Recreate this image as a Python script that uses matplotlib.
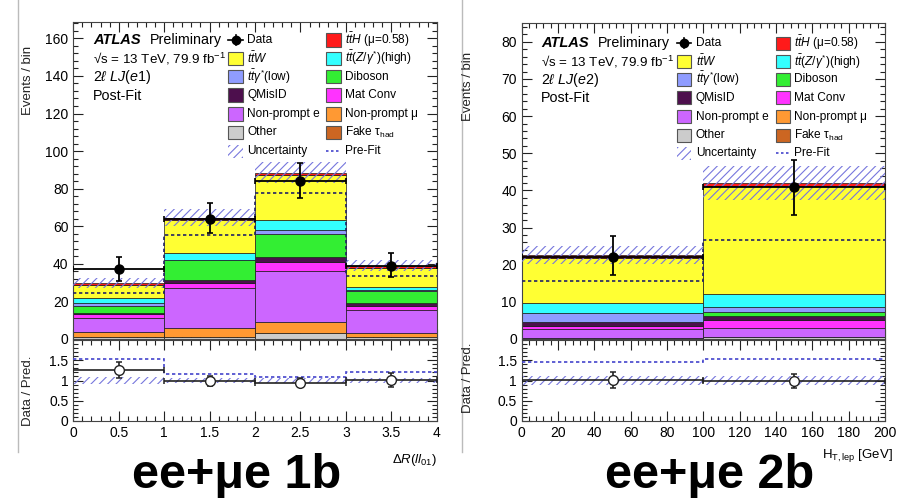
import numpy as np
import matplotlib
matplotlib.use('Agg')
import matplotlib.pyplot as plt
from matplotlib.patches import Rectangle
from matplotlib.lines import Line2D
from matplotlib.ticker import MultipleLocator

plt.rcParams['font.family'] = ['Liberation Sans', 'DejaVu Sans']
plt.rcParams['mathtext.fontset'] = 'custom'
plt.rcParams['mathtext.rm'] = 'Liberation Sans'
plt.rcParams['mathtext.it'] = 'Liberation Sans:italic'
plt.rcParams['mathtext.bf'] = 'Liberation Sans:bold'
plt.rcParams['hatch.linewidth'] = 0.8

# ---------------- data ----------------
# process order: bottom -> top of the stack
proc_names = ['Other', 'Non-prompt mu', 'Non-prompt e', 'Mat Conv', 'QMisID',
              'Diboson', 'ttgamma(low)', 'ttZ(high)', 'ttW', 'ttH']
proc_colors = ['#cccccc', '#ff9933', '#cc66ff', '#ff33ff', '#4d0f4d',
               '#33ee33', '#8f9cff', '#33ffff', '#ffff33', '#ff1a1a']

# left: Delta R(ll01), 2lLJ(e1)
edges_L = [0, 1, 2, 3, 4]
other_L = [1.0, 1.0, 3.0, 1.0]
npmu_L = [2.9, 4.7, 6.2, 2.0]
npe_L = [7.3, 21.5, 26.9, 12.6]
matconv_L = [2.1, 2.5, 4.8, 2.2]
qmisid_L = [0.5, 1.9, 2.5, 1.2]
diboson_L = [4.0, 10.2, 12.6, 6.4]
ttgam_L = [1.5, 0.5, 2.1, 0.6]
ttz_L = [2.5, 3.6, 5.4, 1.5]
ttw_L = [7.0, 17.4, 23.6, 10.4]
tth_L = [1.0, 1.2, 1.4, 1.2]
data_L = [37, 64, 84, 39]
data_up_L = [6.5, 8.5, 9.5, 6.8]
data_dn_L = [6.0, 7.8, 8.8, 6.2]
unc_L = [2.5, 4.5, 5.5, 2.8]
prefit_L = [24.5, 55.5, 77.7, 33.3]
ratio_L = [1.26, 0.99, 0.95, 1.01]
ratio_err_L = [0.2, 0.12, 0.1, 0.17]
ratio_prefit_L = [1.53, 1.16, 1.08, 1.2]
ratio_unc_L = [0.08, 0.07, 0.06, 0.07]

# right: H_T,lep, 2lLJ(e2)
edges_R = [0, 100, 200]
other_R = [0.4, 0.5]
npmu_R = [0.0, 0.0]
npe_R = [2.3, 2.5]
matconv_R = [0.9, 2.0]
qmisid_R = [0.9, 1.3]
diboson_R = [0.1, 0.9]
ttgam_R = [2.5, 1.3]
ttz_R = [2.5, 3.5]
ttw_R = [12.3, 29.2]
tth_R = [0.7, 0.8]
data_R = [22, 41]
data_up_R = [5.8, 7.2]
data_dn_R = [4.7, 7.5]
unc_R = [2.5, 4.5]
prefit_R = [15.5, 26.6]
ratio_R = [1.02, 0.98]
ratio_err_R = [0.2, 0.17]
ratio_prefit_R = [1.45, 1.53]
ratio_unc_R = [0.1, 0.1]

# ---------------- figure ----------------
W, H = 907, 501
fig = plt.figure(figsize=(W / 100, H / 100), dpi=100)

def axrect(x0, y0, x1, y1):
    return [x0 / W, 1 - y1 / H, (x1 - x0) / W, (y1 - y0) / H]

def ftext(x, y, s, **kw):
    return fig.text(x / W, 1 - y / H, s, **kw)

HATCH_C = '#7777dd'
PRE_MAIN_C = '#222266'
PRE_RATIO_C = '#4444cc'


def style(ax, xmaj, xmin, ymaj, ymin):
    ax.xaxis.set_major_locator(MultipleLocator(xmaj))
    ax.xaxis.set_minor_locator(MultipleLocator(xmin))
    ax.yaxis.set_major_locator(MultipleLocator(ymaj))
    ax.yaxis.set_minor_locator(MultipleLocator(ymin))
    ax.tick_params(which='both', direction='in', top=True, right=True,
                   labelsize=10, width=0.8, color='#222222')
    ax.tick_params(which='major', length=7)
    ax.tick_params(which='minor', length=3.5)
    for s in ax.spines.values():
        s.set_linewidth(0.8)
        s.set_color('#444444')


def draw_panel(main_rect, ratio_rect, edges, comps, data, dup, ddn, unc, prefit,
               ratio, rerr, rpre, runc, ymax, xmaj, xmin, ymaj, ymin):
    edges = np.array(edges, float)
    cen = 0.5 * (edges[:-1] + edges[1:])
    wid = np.diff(edges)
    ax = fig.add_axes(axrect(*main_rect))
    bottom = np.zeros(len(cen))
    for vals, col in zip(comps, proc_colors):
        vals = np.array(vals, float)
        ax.bar(cen, vals, width=wid, bottom=bottom, color=col,
               edgecolor='#1a1a1a', linewidth=0.5, zorder=2)
        bottom = bottom + vals
    total = bottom
    unc = np.array(unc)
    ax.bar(cen, 2 * unc, width=wid, bottom=total - unc, facecolor='none',
           edgecolor=HATCH_C, hatch='////', linewidth=0, zorder=3)
    ax.stairs(prefit, edges, baseline=None, color=PRE_MAIN_C, lw=1.2,
              linestyle=(0, (2, 1.6)), zorder=4)
    ax.errorbar(cen, data, yerr=[ddn, dup], xerr=wid / 2, fmt='o', color='black',
                ms=6.5, elinewidth=1.3, capsize=2.5, capthick=1.2, zorder=5)
    ax.set_xlim(edges[0], edges[-1])
    ax.set_ylim(0, ymax)
    style(ax, xmaj, xmin, ymaj, ymin)
    ax.tick_params(labelbottom=False)

    rx = fig.add_axes(axrect(*ratio_rect))
    runc = np.array(runc)
    rx.bar(cen, 2 * runc, width=wid, bottom=1 - runc, facecolor='none',
           edgecolor=HATCH_C, hatch='////', linewidth=0, zorder=2)
    rx.stairs(rpre, edges, baseline=None, color=PRE_RATIO_C, lw=1.2,
              linestyle=(0, (2, 1.6)), zorder=3)
    rx.errorbar(cen, ratio, yerr=rerr, xerr=wid / 2, fmt='o', color='#222222',
                mfc='white', mec='#222222', ms=7, elinewidth=1.2, capsize=2.5,
                capthick=1.1, zorder=5)
    rx.set_xlim(edges[0], edges[-1])
    rx.set_ylim(0, 2)
    style(rx, xmaj, xmin, 0.5, 0.1)
    rx.set_yticks([0, 0.5, 1, 1.5])
    rx.set_yticklabels(['0', '0.5', '1', '1.5'])
    if xmaj >= 1:
        rx.xaxis.set_major_formatter(matplotlib.ticker.FormatStrFormatter('%d'))
    else:
        rx.xaxis.set_major_formatter(
            matplotlib.ticker.FuncFormatter(lambda v, p: ('%g' % v)))
    return ax, rx


comps_L = [other_L, npmu_L, npe_L, matconv_L, qmisid_L, diboson_L, ttgam_L,
           ttz_L, ttw_L, tth_L]
comps_R = [other_R, npmu_R, npe_R, matconv_R, qmisid_R, diboson_R, ttgam_R,
           ttz_R, ttw_R, tth_R]

draw_panel((73.3, 22, 436.7, 339), (73.3, 340, 436.7, 421), edges_L, comps_L,
           data_L, data_up_L, data_dn_L, unc_L, prefit_L, ratio_L, ratio_err_L,
           ratio_prefit_L, ratio_unc_L, 168.7, 0.5, 0.1, 20, 4)
draw_panel((521.7, 22.5, 885, 339), (521.7, 340, 885, 421), edges_R, comps_R,
           data_R, data_up_R, data_dn_R, unc_R, prefit_R, ratio_R, ratio_err_R,
           ratio_prefit_R, ratio_unc_R, 85.2, 20, 4, 10, 2)

# ---------------- labels / texts ----------------
for x0, ycen_ev, ycen_dp in [(28, 80, 391), (468, 86, 378)]:
    ftext(x0, ycen_ev, 'Events / bin', rotation=90, ha='center', va='center',
          fontsize=9.5, color='#222222')
    ftext(x0, ycen_dp, 'Data / Pred.', rotation=90, ha='center', va='center',
          fontsize=9.5, color='#222222')

ftext(437, 460, r'$\Delta R(ll_{01})$', ha='right', va='center', fontsize=9.5)
ftext(893, 455, r'H$_{\rm T,lep}$ [GeV]', ha='right', va='center', fontsize=9.5)

ftext(237, 476, 'ee+\u03bce 1b', ha='center', va='center', fontsize=35,
      fontweight='bold')
ftext(710, 476, 'ee+\u03bce 2b', ha='center', va='center', fontsize=35,
      fontweight='bold')

# screenshot borders
for xb in [18, 462]:
    fig.add_artist(Line2D([xb / W, xb / W], [1 - 452 / H, 1.0],
                          transform=fig.transFigure, color='#bbbbbb', lw=1))


def atlas_block(x, y0, dy, region):
    ftext(x, y0, 'ATLAS', fontsize=10.5, fontweight='bold', fontstyle='italic',
          va='center', ha='left')
    ftext(x + 57, y0, 'Preliminary', fontsize=10.3, va='center', ha='left')
    ftext(x, y0 + dy, '\u221as = 13 TeV, 79.9 fb$^{-1}$', fontsize=9.6,
          va='center', ha='left')
    ftext(x, y0 + 2 * dy, r'2$\ell$ $LJ$($e$' + region + ')', fontsize=10.3,
          va='center', ha='left')
    ftext(x, y0 + 3 * dy, 'Post-Fit', fontsize=10.3, va='center', ha='left')


atlas_block(93, 40, 18.5, '1')
atlas_block(541, 43.3, 18.3, '2')

leg_col1 = ['Data', r'$t\bar{t}W$', r'$t\bar{t}\gamma^{*}$(low)', 'QMisID',
            'Non-prompt e', 'Other', 'Uncertainty']
leg_col2 = [r'$t\bar{t}H$ ($\mathrm{\mu}$=0.58)', r'$t\bar{t}(Z/\gamma^{*})$(high)',
            'Diboson', 'Mat Conv', 'Non-prompt \u03bc', r'Fake $\mathrm{\tau}_{\rm had}$',
            'Pre-Fit']
leg_c1_colors = [None, '#ffff33', '#8f9cff', '#4d0f4d', '#cc66ff', '#cccccc', None]
leg_c2_colors = ['#ff1a1a', '#33ffff', '#33ee33', '#ff33ff', '#ff9933', '#cc6622',
                 None]


def fbox(x0, x1, yc, h, **kw):
    r = Rectangle((x0 / W, 1 - (yc + h / 2) / H), (x1 - x0) / W, h / H,
                  transform=fig.transFigure, **kw)
    fig.add_artist(r)


def fline(xs, ys, **kw):
    fig.add_artist(Line2D([x / W for x in xs], [1 - y / H for y in ys],
                          transform=fig.transFigure, **kw))


def legend(b1x0, b1x1, t1x, b2x0, b2x1, t2x, ys):
    for i, y in enumerate(ys):
        # column 1
        if i == 0:
            xc = 0.5 * (b1x0 + b1x1)
            fline([b1x0, b1x1], [y, y], color='black', lw=1.2)
            fline([xc, xc], [y - 5, y + 5], color='black', lw=1.2)
            fig.add_artist(Line2D([xc / W], [1 - y / H], marker='o', ms=6,
                                  color='black', transform=fig.transFigure))
        elif i == len(ys) - 1:
            fbox(b1x0, b1x1, y, 13, facecolor='none', edgecolor=HATCH_C,
                 hatch='////', lw=0)
        else:
            fbox(b1x0, b1x1, y, 13, facecolor=leg_c1_colors[i],
                 edgecolor='#555555', lw=0.8)
        ftext(t1x, y, leg_col1[i], fontsize=8.6, va='center', ha='left')
        # column 2
        if i == len(ys) - 1:
            fline([b2x0, b2x1], [y, y], color=PRE_RATIO_C, lw=1.2,
                  linestyle=(0, (1.5, 1.5)))
        else:
            fbox(b2x0, b2x1, y, 13, facecolor=leg_c2_colors[i],
                 edgecolor='#555555', lw=0.8)
        ftext(t2x, y, leg_col2[i], fontsize=8.6, va='center', ha='left')


legend(228, 243, 247, 326, 341, 345, [40, 58.3, 76.7, 95, 114, 132.3, 151])
legend(677, 691, 696, 776, 790, 794, [43.3, 61.7, 79.3, 97.7, 116.7, 135, 153.3])

fig.savefig('out.png', dpi=100)
